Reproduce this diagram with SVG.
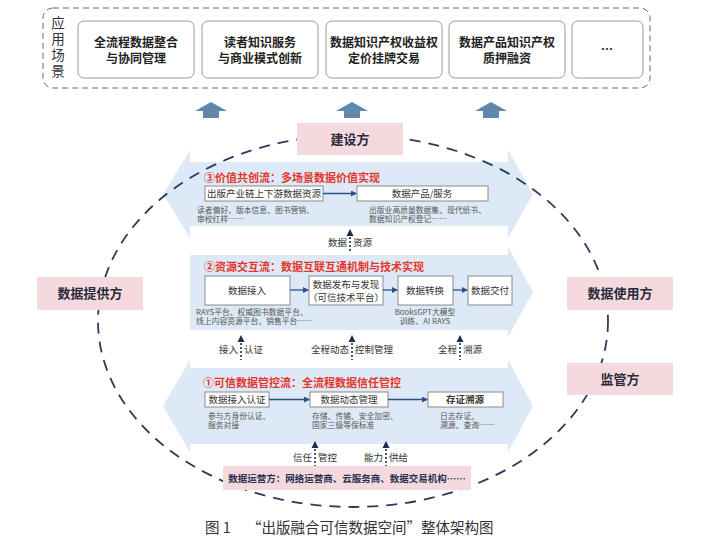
<svg xmlns="http://www.w3.org/2000/svg" width="713" height="544" viewBox="0 0 713 544">
<style>
text{font-family:"Noto Sans CJK SC","Noto Sans",sans-serif}
.scen{fill:#fff;stroke:#9a9a9a;stroke-width:1}
.scent{font-size:12px;font-weight:bold;fill:#222;text-anchor:middle}
.vt{font-size:13.5px;fill:#333;text-anchor:middle}
.pink{fill:#f4dade}
.pinkt{font-size:13px;font-weight:bold;fill:#2a2a3a;text-anchor:middle}
.band{fill:#dde9f6}
.title{font-size:11px;font-weight:bold;fill:#e5362c}
.box{fill:#fff;stroke:#8a8a8a;stroke-width:1}
.bt{font-size:9.5px;fill:#333;text-anchor:middle}
.note{font-size:7.8px;fill:#555}
.lbl{font-size:9.5px;fill:#333}
.flow{stroke:#2f4f86;stroke-width:1.3;fill:none;marker-end:url(#ah)}
.dot{stroke:#1f2d4d;stroke-width:1.6;stroke-dasharray:2 2;fill:none}
.tri{fill:#1f2d4d}
.bigup{fill:#5f88aa}
</style>
<defs>
<marker id="ah" markerWidth="6" markerHeight="6" refX="5" refY="3" orient="auto" markerUnits="userSpaceOnUse">
<path d="M0,0 L6,3 L0,6 Z" fill="#2f4f86"/>
</marker>
</defs>
<rect width="713" height="544" fill="#fff"/>

<g id="scenarios">
<rect x="43" y="8" width="607" height="80" rx="10" fill="none" stroke="#666" stroke-width="1" stroke-dasharray="6 4"/>
<text class="vt" x="58" y="28">应</text>
<text class="vt" x="58" y="44">用</text>
<text class="vt" x="58" y="60">场</text>
<text class="vt" x="58" y="76">景</text>
</g>
<g id="s1"><rect class="scen" x="78" y="21" width="116" height="57" rx="6"/><text class="scent" x="136" y="47">全流程数据整合</text><text class="scent" x="136" y="63">与协同管理</text></g>
<g id="s2"><rect class="scen" x="202" y="21" width="116" height="57" rx="6"/><text class="scent" x="260" y="47">读者知识服务</text><text class="scent" x="260" y="63">与商业模式创新</text></g>
<g id="s3"><rect class="scen" x="326" y="21" width="116" height="57" rx="6"/><text class="scent" x="384" y="47">数据知识产权收益权</text><text class="scent" x="384" y="63">定价挂牌交易</text></g>
<g id="s4"><rect class="scen" x="449" y="21" width="116" height="57" rx="6"/><text class="scent" x="507" y="47">数据产品知识产权</text><text class="scent" x="507" y="63">质押融资</text></g>
<g id="s5"><rect class="scen" x="572" y="21" width="71" height="57" rx="6"/><text class="scent" x="607" y="54">…</text></g>

<g id="upArrows">
<path class="bigup" d="M195,111 L211,102 L227,111 L219,111 L219,118 L203,118 L203,111 Z"/>
<path class="bigup" d="M336,111 L352,102 L368,111 L360,111 L360,118 L344,118 L344,111 Z"/>
<path class="bigup" d="M475,111 L491,102 L507,111 L499,111 L499,118 L483,118 L483,111 Z"/>
</g>

<g id="bands">
<path class="band" d="M163,194 L190,150 L190,162 L508,162 L508,150 L533,194 L508,238 L508,226 L190,226 L190,238 Z"/>
<path class="band" d="M190,255 L508,255 L508,247 L533,292 L508,337 L508,330 L190,330 Z"/>
<path class="band" d="M163,406 L190,360 L190,368 L508,368 L508,360 L533,406 L508,452 L508,444 L190,444 L190,452 Z"/>
</g>

<g id="ellipse">
<ellipse cx="353" cy="321" rx="255" ry="186" fill="none" stroke="#2c3a5c" stroke-width="1.8" stroke-dasharray="11 8"/>
</g>

<g id="builder"><rect class="pink" x="297" y="123" width="106" height="32"/><text class="pinkt" x="350" y="144">建设方</text></g>
<g id="provider"><rect class="pink" x="37" y="277" width="106" height="33"/><text class="pinkt" x="90" y="298">数据提供方</text></g>
<g id="user"><rect class="pink" x="567" y="277" width="106" height="33"/><text class="pinkt" x="620" y="298">数据使用方</text></g>
<g id="regulator"><rect class="pink" x="567" y="363" width="106" height="32"/><text class="pinkt" x="620" y="384">监管方</text></g>
<g id="operator"><rect class="pink" x="223" y="466" width="248" height="24"/><text x="347" y="482" font-size="9.5" font-weight="bold" fill="#2a3050" text-anchor="middle">数据运营方：网络运营商、云服务商、数据交易机构……</text></g>

<g id="flow3">
<text class="title" x="204" y="182">③价值共创流：多场景数据价值实现</text>
<g id="f3a"><rect class="box" x="205" y="186" width="118" height="15"/><text class="bt" x="264" y="197">出版产业链上下游数据资源</text></g>
<g id="f3b"><rect class="box" x="357" y="186" width="131" height="15"/><text class="bt" x="422" y="197">数据产品/服务</text></g>
<text class="note" x="197" y="213">读者偏好、版本信息、图书营销、</text>
<text class="note" x="197" y="222">审校红样……</text>
<text class="note" x="369" y="213">出版业高质量数据集、现代纸书、</text>
<text class="note" x="369" y="222">数据知识产权登记……</text>
</g>

<g id="flow2">
<text class="title" x="204" y="271">②资源交互流：数据互联互通机制与技术实现</text>
<g id="f2a"><rect class="box" x="205" y="276" width="85" height="29"/><text class="bt" x="247" y="294">数据接入</text></g>
<g id="f2b"><rect class="box" x="309" y="276" width="74" height="29"/><text class="bt" x="346" y="288">数据发布与发现</text><text class="bt" x="346" y="301">（可信技术平台）</text></g>
<g id="f2c"><rect class="box" x="398" y="276" width="55" height="29"/><text class="bt" x="425" y="294">数据转换</text></g>
<g id="f2d"><rect class="box" x="468" y="276" width="44" height="29"/><text class="bt" x="490" y="294">数据交付</text></g>
<text class="note" x="196" y="315">RAYS平台、权威图书数据平台、</text>
<text class="note" x="196" y="324">线上内容资源平台、销售平台……</text>
<text class="note" x="425" y="315" text-anchor="middle">BooksGPT大模型</text>
<text class="note" x="425" y="324" text-anchor="middle">训练、AI RAYS</text>
</g>

<g id="flow1">
<text class="title" x="203" y="387">①可信数据管控流：全流程数据信任管控</text>
<g id="f1a"><rect class="box" x="205" y="392" width="64" height="15"/><text class="bt" x="237" y="403">数据接入认证</text></g>
<g id="f1b"><rect class="box" x="310" y="392" width="78" height="15"/><text class="bt" x="349" y="403">数据动态管理</text></g>
<g id="f1c"><rect class="box" x="428" y="392" width="75" height="15"/><text class="bt" x="465" y="403" font-weight="bold">存证溯源</text></g>
<text class="note" x="208" y="419">参与方身份认证、</text>
<text class="note" x="208" y="428">服务对接</text>
<text class="note" x="312" y="419">存储、传输、安全加密、</text>
<text class="note" x="312" y="428">国家三级等保标准</text>
<text class="note" x="440" y="419">日志存证、</text>
<text class="note" x="440" y="428">溯源、查询……</text>
</g>

<g id="connectors">
<path class="flow" d="M323,193.5 L356,193.5"/>
<path class="flow" d="M290,290 L308,290"/>
<path class="flow" d="M383,290 L397,290"/>
<path class="flow" d="M453,290 L467,290"/>
<path class="flow" d="M269,399.5 L309,399.5"/>
<path class="flow" d="M388,399.5 L427,399.5"/>

<path class="tri" d="M350,229 L346.5,236 L353.5,236 Z"/><path class="dot" d="M350,237 L350,252"/>
<path class="tri" d="M241,335 L237.5,342 L244.5,342 Z"/><path class="dot" d="M241,343 L241,360"/>
<path class="tri" d="M352,335 L348.5,342 L355.5,342 Z"/><path class="dot" d="M352,343 L352,360"/>
<path class="tri" d="M460,335 L456.5,342 L463.5,342 Z"/><path class="dot" d="M460,343 L460,360"/>
<path class="tri" d="M315,441 L311.5,448 L318.5,448 Z"/><path class="dot" d="M315,449 L315,466"/>
<path class="tri" d="M386,441 L382.5,448 L389.5,448 Z"/><path class="dot" d="M386,449 L386,466"/>
</g>

<g id="edgeLabels">
<text class="lbl" x="347" y="246" text-anchor="end">数据</text><text class="lbl" x="353" y="246">资源</text>
<text class="lbl" x="238" y="353" text-anchor="end">接入</text><text class="lbl" x="244" y="353">认证</text>
<text class="lbl" x="349" y="353" text-anchor="end">全程动态</text><text class="lbl" x="355" y="353">控制管理</text>
<text class="lbl" x="457" y="353" text-anchor="end">全程</text><text class="lbl" x="463" y="353">溯源</text>
<text class="lbl" x="312" y="461" text-anchor="end">信任</text><text class="lbl" x="318" y="461">管控</text>
<text class="lbl" x="383" y="461" text-anchor="end">能力</text><text class="lbl" x="389" y="461">供给</text>
</g>

<g id="caption">
<text x="205" y="533" font-size="14.5" fill="#333">图 1</text>
<text x="247" y="533" font-size="14.5" fill="#333">“出版融合可信数据空间”整体架构图</text>
</g>
</svg>
